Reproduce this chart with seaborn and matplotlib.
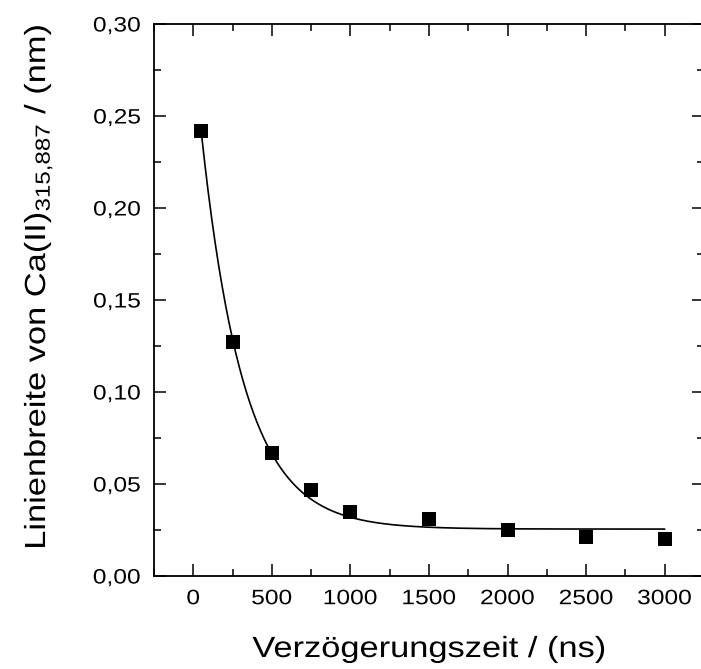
import numpy as np
import pandas as pd
import matplotlib
matplotlib.use("Agg")
import matplotlib.pyplot as plt
from matplotlib.ticker import MultipleLocator, FuncFormatter
from matplotlib import patheffects
from matplotlib.transforms import Affine2D
import seaborn as sns

# Measured line widths vs. delay time
delay_ns = [50, 250, 500, 750, 1000, 1500, 2000, 2500, 3000]
width_nm = [0.242, 0.127, 0.067, 0.047, 0.035, 0.031, 0.025, 0.021, 0.020]

# Exponential decay fit: y = y0 + A * exp(-x / t)
fit_y0 = 0.0255
fit_A = 0.2605
fit_t = 270.0

x_ticks = [0, 500, 1000, 1500, 2000, 2500, 3000]
y_ticks = [0.00, 0.05, 0.10, 0.15, 0.20, 0.25, 0.30]


class Stretch(patheffects.AbstractPathEffect):
    """Widen glyphs horizontally (along the text direction) about an anchor."""

    def __init__(self, sx, anchor=0.5):
        super().__init__()
        self.sx = sx
        self.anchor = anchor

    def draw_path(self, renderer, gc, tpath, affine, rgbFace=None):
        ext = tpath.get_extents()
        cx = ext.x0 + self.anchor * ext.width
        pre = Affine2D().translate(-cx, 0).scale(self.sx, 1).translate(cx, 0)
        renderer.draw_path(gc, tpath, pre + affine, rgbFace)


SX = 1.18

sns.set_theme(style="ticks")
plt.rcParams["font.family"] = ["Liberation Sans", "DejaVu Sans"]
plt.rcParams["mathtext.fontset"] = "custom"
plt.rcParams["mathtext.rm"] = "Liberation Sans"
plt.rcParams["mathtext.it"] = "Liberation Sans"

fig = plt.figure(figsize=(7.01, 6.69), dpi=100)
ax = fig.add_axes([154 / 701, 93 / 669, 550 / 701, 552 / 669])

data = pd.DataFrame({"delay": delay_ns, "width": width_nm})
xf = np.linspace(delay_ns[0], delay_ns[-1], 400)
fit = pd.DataFrame({"delay": xf, "width": fit_y0 + fit_A * np.exp(-xf / fit_t)})

sns.lineplot(data=fit, x="delay", y="width", ax=ax, color="black", lw=1.2)
sns.scatterplot(data=data, x="delay", y="width", ax=ax, marker="s", s=105,
                color="black", edgecolor="black", linewidth=0, zorder=3)

ax.set_xlim(-250, 3250)
ax.set_ylim(0, 0.30)
ax.set_xticks(x_ticks)
ax.set_yticks(y_ticks)
ax.xaxis.set_minor_locator(MultipleLocator(250))
ax.yaxis.set_minor_locator(MultipleLocator(0.025))
ax.yaxis.set_major_formatter(FuncFormatter(lambda v, p: f"{v:.2f}".replace(".", ",")))
ax.xaxis.set_major_formatter(FuncFormatter(lambda v, p: f"{v:.0f}"))

for s in ax.spines.values():
    s.set_visible(True)
    s.set_linewidth(1.3)
    s.set_color("black")

ax.tick_params(which="both", direction="in", top=True, right=True,
               colors="black", labelsize=15)
ax.tick_params(which="major", length=8.6, width=1.1)
ax.tick_params(which="minor", length=5, width=1.1)
ax.tick_params(axis="x", which="major", pad=9.5)
ax.tick_params(axis="y", which="major", pad=9.5)

for lab in ax.get_xticklabels():
    lab.set_path_effects([Stretch(SX, 0.5)])
for lab in ax.get_yticklabels():
    lab.set_path_effects([Stretch(SX, 1.0)])

ax.set_xlabel("")
ax.set_ylabel("")
fig.text(429 / 701, 1 - 657 / 669, "Verzögerungszeit / (ns)", ha="center", va="baseline",
         fontsize=21, color="black", path_effects=[Stretch(SX, 0.5)])
fig.text(38 / 701, 1 - 287 / 669,
         r"Linienbreite von Ca(II)$_{\mathregular{315{,}887}}$ / (nm)",
         ha="center", va="center", rotation=90, fontsize=21, color="black",
         path_effects=[Stretch(SX, 0.5)])

fig.savefig("out.png", dpi=100, facecolor="white")
